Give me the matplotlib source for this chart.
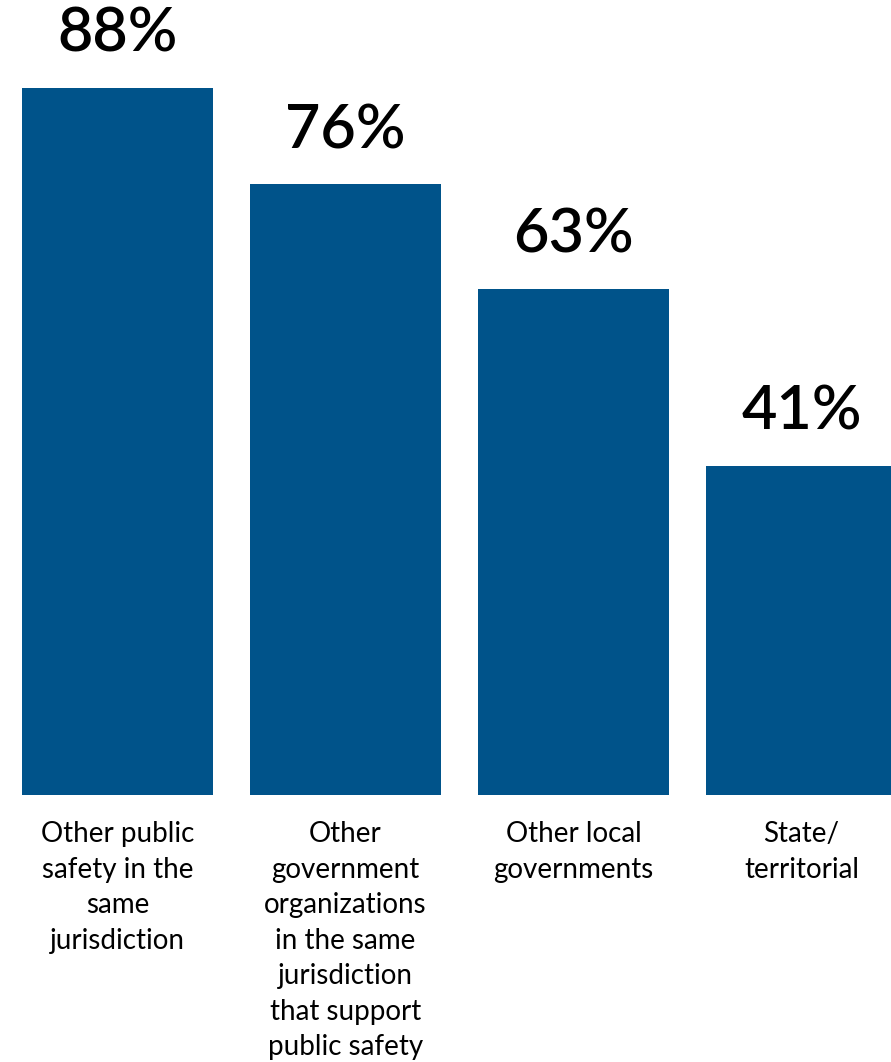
import numpy as np
import matplotlib.pyplot as plt

categories = [
    "Other public\nsafety in the\nsame\njurisdiction",
    "Other\ngovernment\norganizations\nin the same\njurisdiction\nthat support\npublic safety",
    "Other local\ngovernments",
    "State/\nterritorial",
]
values = [88, 76, 63, 41]

bar_color = "#00538a"
plt.rcParams['font.family'] = ['Lato', 'DejaVu Sans']

fig = plt.figure(figsize=(8.91, 10.62), dpi=100)
# axes spans full width; baseline sits at 795 px from top
ax = fig.add_axes([0, (1062 - 795) / 1062, 1, 795 / 1062])

x = np.arange(len(values))
ax.bar(x, values, width=0.838, color=bar_color)

px_per_unit = 228.0
ax.set_xlim(-117.5 / px_per_unit, (891 - 117.5) / px_per_unit)
ax.set_ylim(0, 795 / (707 / 88))

for xi, v in zip(x, values):
    ax.annotate(f"{v}%", (xi, v), xytext=(0, 26), textcoords="offset points",
                ha="center", va="baseline", fontsize=44, color="black",
                fontweight="semibold")

for xi, lab in zip(x, categories):
    ax.annotate(lab, (xi, 0), xytext=(0, -19), textcoords="offset points",
                ha="center", va="top", fontsize=20, color="black",
                linespacing=1.45, annotation_clip=False)

ax.axis("off")
fig.savefig("out.png", dpi=100)
